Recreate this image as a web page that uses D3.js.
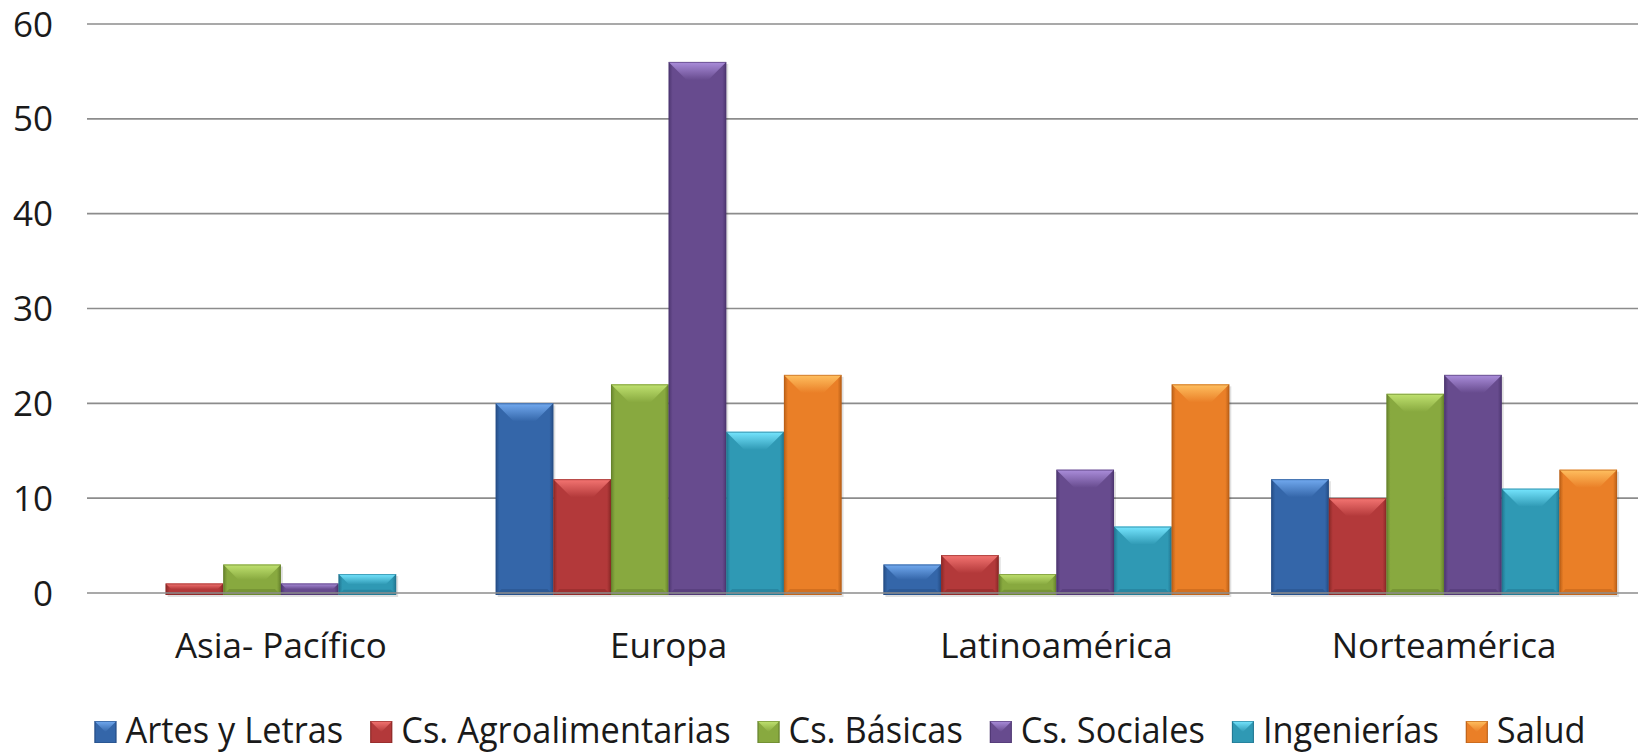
<!DOCTYPE html>
<html><head><meta charset="utf-8">
<script src="https://cdn.jsdelivr.net/npm/d3@7"></script>
<style>body{margin:0;background:#fff}svg{display:block}text{font-family:"Open Sans",sans-serif}</style>
</head><body><svg id="c" width="1640" height="752"></svg>
<script>
const categories = ["Asia- Pacífico","Europa","Latinoamérica","Norteamérica"];
const seriesNames = ["Artes y Letras","Cs. Agroalimentarias","Cs. Básicas","Cs. Sociales","Ingenierías","Salud"];
const artesLetras = [0,20,3,12];
const agro = [1,12,4,10];
const basicas = [3,22,2,21];
const sociales = [1,56,13,23];
const ingenierias = [2,17,7,11];
const salud = [0,23,22,13];
const yTicks = [0,10,20,30,40,50,60];

const seriesValues = [artesLetras, agro, basicas, sociales, ingenierias, salud];
const baseColors = ["#3466a9","#b3393a","#88a93f","#674b8e","#2f99b4","#ea7f27"];
const lightColors = ["#72aaf0","#f47572","#c0e270","#ab8edb","#76e6ff","#ffc060"];
const darkColors = ["#254d85","#8a2826","#66822c","#4d3670","#217590","#b95f17"];

const svg = d3.select("#c");
const defs = svg.append("defs");
seriesNames.forEach((s,i)=>{
  const g = defs.append("linearGradient").attr("id","h"+i).attr("x1","0").attr("x2","1").attr("y1","0").attr("y2","0");
  g.append("stop").attr("offset","0").attr("stop-color",darkColors[i]);
  g.append("stop").attr("offset","0.07").attr("stop-color",baseColors[i]);
  g.append("stop").attr("offset","0.93").attr("stop-color",baseColors[i]);
  g.append("stop").attr("offset","1").attr("stop-color",darkColors[i]);
  const t = defs.append("linearGradient").attr("id","t"+i).attr("x1","0").attr("x2","0").attr("y1","0").attr("y2","1");
  t.append("stop").attr("offset","0").attr("stop-color",lightColors[i]);
  t.append("stop").attr("offset","1").attr("stop-color",baseColors[i]);
});

const x0 = d3.scaleBand().domain(categories).range([87,1638]).paddingInner(0.108).paddingOuter(0.054);
const x1 = d3.scaleBand().domain(seriesNames).range([0,x0.bandwidth()]);
const y = d3.scaleLinear().domain([0,60]).range([593,24]);

// gridlines
svg.append("g").selectAll("line").data(yTicks.filter(d=>d>0)).join("line")
  .attr("x1",87).attr("x2",1638).attr("y1",d=>y(d)).attr("y2",d=>y(d))
  .attr("stroke","#8c8c8c").attr("stroke-width",1.6);

// y tick labels
svg.append("g").selectAll("text").data(yTicks).join("text")
  .attr("x",53).attr("y",d=>y(d)).attr("dy","0.36em").attr("text-anchor","end")
  .attr("font-size",35).attr("fill","#1a1a1a").text(d=>d);

// bars
const bars = svg.append("g");
categories.forEach((c,ci)=>{
  seriesNames.forEach((s,si)=>{
    const v = seriesValues[si][ci];
    if(!v) return;
    const bx = x0(c)+x1(s), bw = x1.bandwidth();
    const by = y(v), bh = y(0)-y(v)+2;
    const b = Math.min(18, bh/2, bw/2);
    const g = bars.append("g");
    g.append("rect").attr("x",bx+2).attr("y",by+2).attr("width",bw).attr("height",bh)
      .attr("fill","#000").attr("opacity",0.12);
    g.append("rect").attr("x",bx).attr("y",by).attr("width",bw).attr("height",bh).attr("fill","url(#h"+si+")");
    g.append("polygon").attr("points",[[bx,by],[bx+bw,by],[bx+bw-b,by+b],[bx+b,by+b]].map(p=>p.join(",")).join(" "))
      .attr("fill","url(#t"+si+")");
    const bb = Math.min(6,bh/4);
    g.append("polygon").attr("points",[[bx,by+bh],[bx+bw,by+bh],[bx+bw-bb,by+bh-bb],[bx+bb,by+bh-bb]].map(p=>p.join(",")).join(" "))
      .attr("fill",darkColors[si]).attr("opacity",0.5);
    g.append("rect").attr("x",bx+0.5).attr("y",by+0.5).attr("width",bw-1).attr("height",bh-1)
      .attr("fill","none").attr("stroke",darkColors[si]).attr("stroke-width",1).attr("opacity",0.6);
  });
});

// baseline
svg.append("line").attr("x1",87).attr("x2",1638).attr("y1",y(0)).attr("y2",y(0))
  .attr("stroke","#8c8c8c").attr("stroke-width",1.6);

// category labels
svg.append("g").selectAll("text").data(categories).join("text")
  .attr("x",d=>x0(d)+x0.bandwidth()/2).attr("y",658).attr("text-anchor","middle")
  .attr("font-size",35).attr("fill","#1a1a1a").text(d=>d);

// legend
const leg = svg.append("g");
const sx = 0.955;
const items = seriesNames.map((s,i)=>{
  const g = leg.append("g");
  const ms = 22;
  g.append("rect").attr("x",0).attr("y",-ms).attr("width",ms).attr("height",ms).attr("fill","url(#h"+i+")");
  g.append("polygon").attr("points",`0,${-ms} ${ms},${-ms} ${ms/2},${-ms/2}`).attr("fill","url(#t"+i+")");
  g.append("rect").attr("x",0.5).attr("y",-ms+0.5).attr("width",ms-1).attr("height",ms-1).attr("fill","none").attr("stroke",darkColors[i]).attr("opacity",0.6);
  const t = g.append("text").attr("transform",`translate(${ms+9},0) scale(${sx},1)`).attr("font-size",36).attr("fill","#1a1a1a").text(s);
  return {g, w: ms+9+t.node().getComputedTextLength()*sx};
});
const gap = 27;
const total = d3.sum(items,d=>d.w)+gap*(items.length-1);
let lx = 840 - total/2;
items.forEach(it=>{ it.g.attr("transform",`translate(${lx},743)`); lx += it.w+gap; });
</script></body></html>
